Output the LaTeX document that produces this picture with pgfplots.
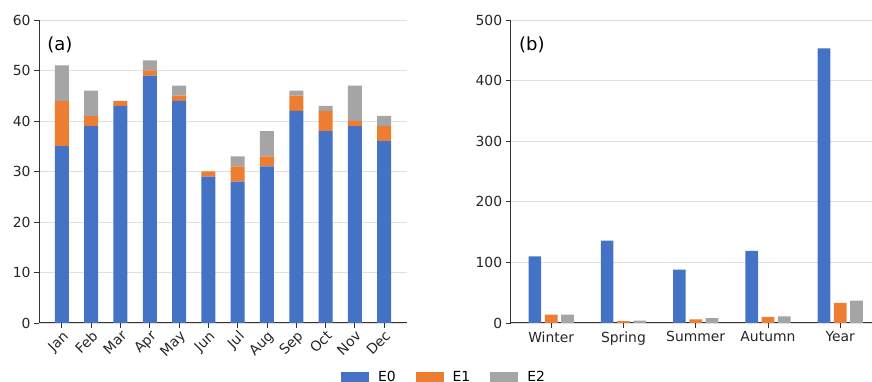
\documentclass[border=0pt]{standalone}
\usepackage{pgfplots}
\pgfplotsset{compat=1.18}
\usepackage{pgfplotstable}
\usepackage{fontspec}
\setmainfont{DejaVu Sans}

\definecolor{cEzero}{HTML}{4472C4}
\definecolor{cEone}{HTML}{ED7D31}
\definecolor{cEtwo}{HTML}{A5A5A5}
\definecolor{gridc}{HTML}{E0E0E0}
\definecolor{spine}{HTML}{333333}

% monthly counts, stacked by class
\pgfplotstableread{
x  E0 E1 E2
0  35 9  7
1  39 2  5
2  43 1  0
3  49 1  2
4  44 1  2
5  29 1  0
6  28 3  2
7  31 2  5
8  42 3  1
9  38 4  1
10 39 1  7
11 36 3  2
}\monthly

% seasonal and annual totals
\pgfplotstableread{
x E0  E1 E2
0 110 14 14
1 136 3  4
2 88  6  8
3 119 10 11
4 453 33 37
}\seasonal

\pgfplotsset{
  panel/.style={
    scale only axis, height=303pt,
    axis lines*=left,
    axis line style={spine, line width=1pt, -},
    ymajorgrids, grid style={gridc, line width=0.8pt},
    tick align=outside, major tick length=5pt,
    tick style={spine, line width=0.9pt},
    ymin=0,
    tick label style={font=\fontsize{13.9}{16}\selectfont, text=black!85},
    /pgf/number format/assume math mode=true,
    clip=false,
  },
  sw/.style={legend image code/.code={\fill[##1] (0pt,-4.6pt) rectangle (28pt,4.6pt);}},
}

\begin{document}
\begin{tikzpicture}
\path[use as bounding box] (0,0) rectangle (872pt,382pt);

\begin{axis}[panel,
  at={(39pt,59pt)}, anchor=south west, width=368pt,
  ybar stacked, bar width=14pt,
  xmin=-0.78, xmax=11.78, ymax=60,
  ytick={0,10,...,60},
  xtick={0,...,11},
  xticklabels={Jan,Feb,Mar,Apr,May,Jun,Jul,Aug,Sep,Oct,Nov,Dec},
  x tick label style={rotate=45, anchor=north east, inner sep=1pt},
  legend columns=3,
  legend style={at={(1.1005,-0.178)}, anchor=center, draw=none, fill=none,
    font=\fontsize{13.9}{16}\selectfont,
    /tikz/every odd column/.append style={column sep=7pt},
    /tikz/every even column/.append style={column sep=18pt}},
]
\addplot[fill=cEzero, draw=none, sw] table[x=x, y=E0] {\monthly};
\addplot[fill=cEone, draw=none, sw] table[x=x, y=E1] {\monthly};
\addplot[fill=cEtwo, draw=none, sw] table[x=x, y=E2] {\monthly};
\legend{E0,E1,E2}
\node[anchor=west, inner sep=0pt, font=\fontsize{18}{20}\selectfont] at (rel axis cs:0.022,0.917) {(a)};
\end{axis}

\begin{axis}[panel,
  at={(510.7pt,59pt)}, anchor=south west, width=361.3pt,
  ybar, bar width=12.7pt,
  xmin=-0.56, xmax=4.44, ymax=500,
  ytick={0,100,...,500},
  xtick={0,...,4},
  xticklabels={Winter,Spring,Summer,Autumn,Year},
]
\addplot[fill=cEzero, draw=none, bar shift=-16.3pt] table[x=x, y=E0] {\seasonal};
\addplot[fill=cEone, draw=none, bar shift=0pt] table[x=x, y=E1] {\seasonal};
\addplot[fill=cEtwo, draw=none, bar shift=16.3pt] table[x=x, y=E2] {\seasonal};
\node[anchor=west, inner sep=0pt, font=\fontsize{18}{20}\selectfont] at (rel axis cs:0.023,0.917) {(b)};
\end{axis}
\end{tikzpicture}
\end{document}
